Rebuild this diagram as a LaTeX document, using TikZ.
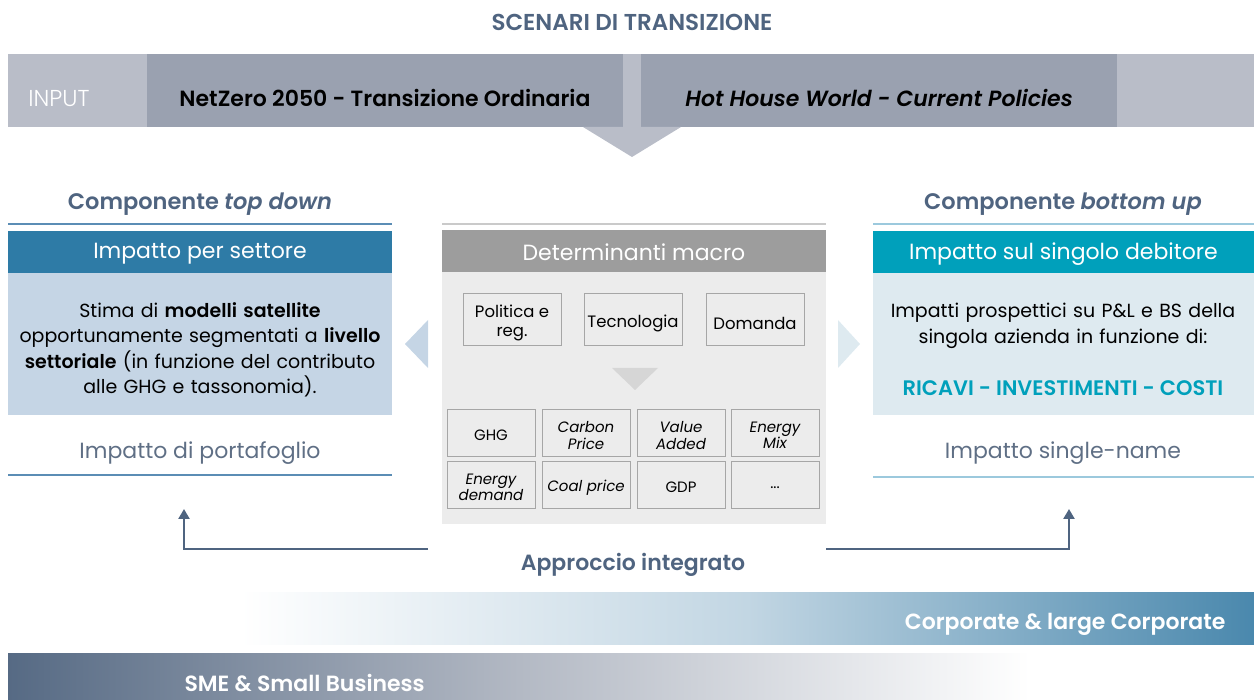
\documentclass[tikz,border=0pt]{standalone}
\usepackage{fontspec}
\setmainfont{Poppins}[BoldFont={Poppins SemiBold}, BoldItalicFont={Poppins SemiBold Italic}]
\newfontfamily\lightfont{Poppins Light}
\usetikzlibrary{arrows.meta}
\definecolor{slate}{HTML}{4F6480}
\definecolor{inputbg}{HTML}{B9BDC8}
\definecolor{inputdark}{HTML}{9AA1B0}
\definecolor{tdline}{HTML}{5B8DB5}
\definecolor{tdhead}{HTML}{2E7BA6}
\definecolor{tdbody}{HTML}{C5D5E5}
\definecolor{buline}{HTML}{9CC9DD}
\definecolor{buhead}{HTML}{00A0BB}
\definecolor{bubody}{HTML}{DEEAF0}
\definecolor{mhead}{HTML}{9D9D9D}
\definecolor{mbody}{HTML}{ECECEC}
\definecolor{mborder}{HTML}{A6A6A6}
\definecolor{mtri}{HTML}{D6D6D6}
\definecolor{subtxt}{HTML}{5F6F85}
\definecolor{corpblue}{HTML}{4A88AD}
\definecolor{corpmid}{HTML}{C2D6E3}
\definecolor{smedark}{HTML}{566A84}
\definecolor{smemid}{HTML}{B3B9C4}
\tikzset{
  rect/.style={draw=none, inner sep=0pt, outer sep=0pt, anchor=north west},
  headtxt/.style={text=white, font=\fontsize{22}{26}\selectfont},
  comptitle/.style={text=slate, font=\bfseries\fontsize{22.5}{26}\selectfont},
  subtitle/.style={text=subtxt, font=\fontsize{22}{26}\selectfont},
  bartxt/.style={text=white, font=\bfseries\fontsize{22}{26}\selectfont},
  smallbox/.style={draw=mborder, fill=mbody, line width=0.8pt, inner sep=0pt, minimum width=98pt, minimum height=52pt},
  smalltxt/.style={align=center, inner sep=0pt, font=\fontsize{16.5}{19}\selectfont, yshift=-4pt},
  gridbox/.style={draw=mborder, fill=mbody, line width=0.8pt, inner sep=0pt, minimum width=88pt, minimum height=47pt},
  gridtxt/.style={align=center, inner sep=0pt, font=\fontsize{15}{16.5}\selectfont, yshift=-3pt},
  flow/.style={draw=slate, line width=2.4pt, -{Triangle[width=11pt,length=10pt]}},
}
\begin{document}
\begin{tikzpicture}[x=1pt,y=-1pt]
\useasboundingbox (0,0) rectangle (1254,700);
% title
\node[text=slate, font=\bfseries\fontsize{23}{27}\selectfont] (title) at (632,22) {SCENARI DI TRANSIZIONE};
% input bar
\node[rect, fill=inputbg, minimum width=1246pt, minimum height=73pt] (inputbar) at (8,54) {};
\node[rect, fill=inputdark, minimum width=476pt, minimum height=73pt] (nz) at (147,54) {};
\node[rect, fill=inputdark, minimum width=476pt, minimum height=73pt] (hh) at (641,54) {};
\node[text=white, font=\lightfont\fontsize{23}{27}\selectfont] (inputlbl) at (59,99) {INPUT};
\node[font=\bfseries\fontsize{22}{26}\selectfont] (nztxt) at ([yshift=-7pt]nz.center) {NetZero 2050 - Transizione Ordinaria};
\node[font=\bfseries\itshape\fontsize{22}{26}\selectfont] (hhtxt) at ([yshift=-7pt]hh.center) {Hot House World - Current Policies};
\fill[inputbg] (583,127) -- (681,127) -- (632,157) -- cycle;
% ---------- left column
\node[comptitle] (tdtitle) at (200,204) {Componente \textit{top down}};
\draw[tdline, line width=2pt] (8,224) -- (392,224);
\node[rect, fill=tdhead, minimum width=384pt, minimum height=42pt] (tdh) at (8,231) {};
\node[headtxt] at ([yshift=-2pt]tdh.center) {Impatto per settore};
\node[rect, fill=tdbody, minimum width=384pt, minimum height=142pt] (tdb) at (8,273) {};
\node[align=center, text width=380pt, font=\fontsize{19}{25.5}\selectfont] (tdbtxt) at ([yshift=-6pt]tdb.center) {Stima di \textbf{modelli satellite}\\ opportunamente segmentati a \textbf{livello}\\ \textbf{settoriale} (in funzione del contributo\\ alle GHG e tassonomia).};
\node[subtitle] (tdsub) at (200,453) {Impatto di portafoglio};
\draw[tdline, line width=2pt] (8,475) -- (392,475);
% ---------- right column
\node[comptitle] (butitle) at (1063,204) {Componente \textit{bottom up}};
\draw[buline, line width=2pt] (873,224) -- (1254,224);
\node[rect, fill=buhead, minimum width=381pt, minimum height=42pt] (buh) at (873,231) {};
\node[headtxt] at ([yshift=-2pt]buh.center) {Impatto sul singolo debitore};
\node[rect, fill=bubody, minimum width=381pt, minimum height=142pt] (bub) at (873,273) {};
\node[align=center, text width=378pt, font=\fontsize{19}{25.5}\selectfont] (bubtxt) at (1063,326) {Impatti prospettici su P\&L e BS della\\ singola azienda in funzione di:};
\node[text=buhead, font=\bfseries\fontsize{21}{25}\selectfont] (bukeys) at (1063,388) {RICAVI - INVESTIMENTI - COSTI};
\node[subtitle] (busub) at (1063,453) {Impatto single-name};
\draw[buline, line width=2pt] (873,477) -- (1254,477);
% ---------- center column
\draw[mborder!60, line width=1.5pt] (442,224) -- (826,224);
\node[rect, fill=mhead, minimum width=384pt, minimum height=42pt] (mh) at (442,230) {};
\node[headtxt] at ([yshift=-1pt]mh.center) {Determinanti macro};
\node[rect, fill=mbody, minimum width=384pt, minimum height=252pt] (mb) at (442,272) {};
\node[smallbox] (pol) at (512,319) {};
\node[smalltxt] at (pol.center) {Politica e\\ reg.};
\node[smallbox] (tec) at (633,319) {};
\node[smalltxt] at (tec.center) {Tecnologia};
\node[smallbox] (dom) at (755,319) {};
\node[smalltxt] at (dom.center) {Domanda};
\fill[mtri] (612,368) -- (658,368) -- (635,390) -- cycle;
\node[gridbox] (ghg) at (491,432.5) {};
\node[gridtxt] at (ghg.center) {GHG};
\node[gridbox] (cp) at (586,432.5) {};
\node[gridtxt] at (cp.center) {\itshape Carbon\\ \itshape Price};
\node[gridbox] (va) at (681,432.5) {};
\node[gridtxt] at (va.center) {\itshape Value\\ \itshape Added};
\node[gridbox] (em) at (775,432.5) {};
\node[gridtxt] at (em.center) {\itshape Energy\\ \itshape Mix};
\node[gridbox] (ed) at (491,484.5) {};
\node[gridtxt] at (ed.center) {\itshape Energy\\ \itshape demand};
\node[gridbox] (coal) at (586,484.5) {};
\node[gridtxt] at (coal.center) {\itshape Coal price};
\node[gridbox] (gdp) at (681,484.5) {};
\node[gridtxt] at (gdp.center) {GDP};
\node[gridbox] (dots) at (775,484.5) {};
\node[gridtxt] at (dots.center) {...};
% side chevrons
\fill[tdbody] (428,320) -- (428,368) -- (405,344) -- cycle;
\fill[bubody] (838,320) -- (838,368) -- (860,344) -- cycle;
% arrows
\coordinate (lstart) at (428,549);
\coordinate (lend) at (184,509);
\coordinate (rstart) at (826,549);
\coordinate (rend) at (1069,509);
\draw[flow] (lstart) -| (lend);
\draw[flow] (rstart) -| (rend);
\node[text=slate, font=\bfseries\fontsize{22}{26}\selectfont] (appr) at (633,565) {Approccio integrato};
% bottom bars
\shade[left color=white, right color=corpblue, middle color=corpmid] (240,592) rectangle (1254,644);
\node[anchor=east, bartxt] (corp) at (1229,624) {Corporate \& large Corporate};
\shade[left color=smedark, right color=white, middle color=smemid] (8,653) rectangle (1030,700);
\node[anchor=west, bartxt] (sme) at (181,683) {SME \& Small Business};
\end{tikzpicture}
\end{document}
